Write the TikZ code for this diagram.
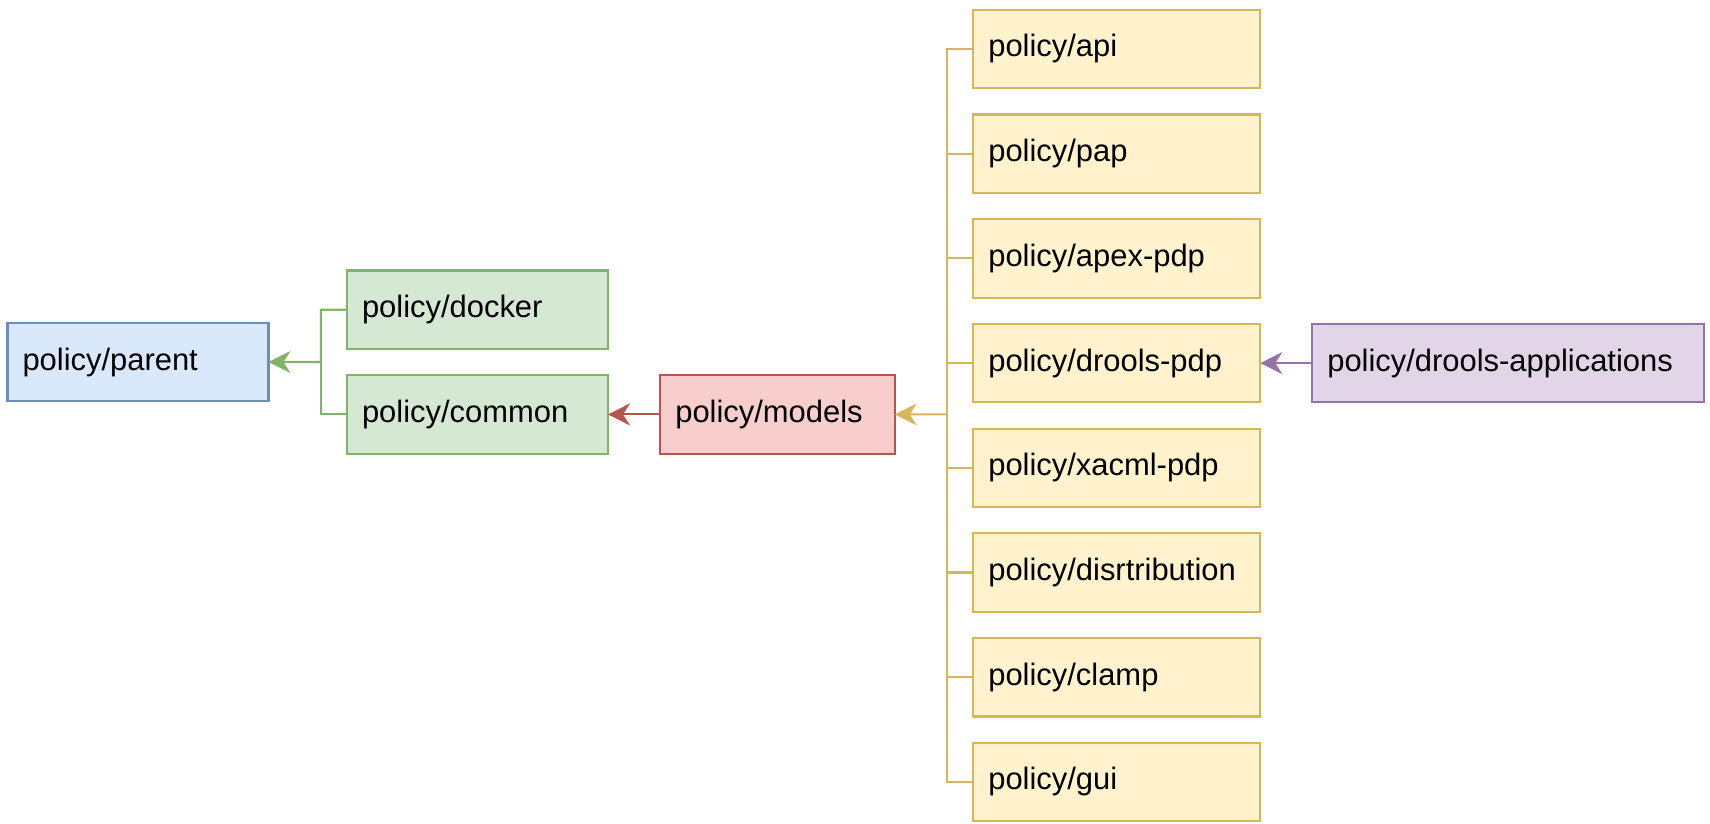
\documentclass[tikz,border=0pt]{standalone}
\usepackage{fontspec}
\setmainfont{Liberation Sans}
\usetikzlibrary{positioning,arrows.meta,calc}
\usepackage{xcolor}

\definecolor{blueFill}{HTML}{DAE8FC}
\definecolor{blueLine}{HTML}{6C8EBF}
\definecolor{greenFill}{HTML}{D5E8D4}
\definecolor{greenLine}{HTML}{82B366}
\definecolor{redFill}{HTML}{F8CECC}
\definecolor{redLine}{HTML}{B85450}
\definecolor{yellowFill}{HTML}{FFF2CC}
\definecolor{yellowLine}{HTML}{D6B656}
\definecolor{purpleFill}{HTML}{E1D5E7}
\definecolor{purpleLine}{HTML}{9673A6}

\begin{document}
\begin{tikzpicture}

    \tikzstyle{obj}=[draw, rectangle, line width=1.2pt, outer sep=0pt, minimum height=1.57cm, inner xsep=0.3cm, align=left, font=\fontsize{17.6}{21}\selectfont];
    \tikzstyle{root}=[obj, fill=blueFill, draw=blueLine, text width=4.62cm];
    \tikzstyle{base}=[obj, fill=greenFill, draw=greenLine, text width=4.62cm];
    \tikzstyle{core}=[obj, fill=redFill, draw=redLine, text width=4.09cm];
    \tikzstyle{comp}=[obj, fill=yellowFill, draw=yellowLine, text width=5.14cm];
    \tikzstyle{app}=[obj, fill=purpleFill, draw=purpleLine, text width=7.23cm];
    \tikzstyle{link}=[line width=1.2pt];

    \useasboundingbox (0,0) rectangle (34.2,-16.48);

    \begin{scope}[>={Stealth[length=0.44cm,width=0.44cm,inset=0.14cm]}]
      \node (parent) at (2.76,-7.24) [root]{policy/parent};

      \node (docker) [above right=-0.524cm and 1.57cm of parent, base]{policy/docker};
      \node (common) [below=0.524cm of docker, base]{policy/common};

      \node (models) [right=1.046cm of common, core]{policy/models};

      \node (api) [above right=5.738cm and 1.57cm of models, comp]{policy/api};
      \node (pap) [below=0.524cm of api, comp]{policy/pap};
      \node (apex) [below=0.524cm of pap, comp]{policy/apex-pdp};
      \node (drools) [below=0.524cm of apex, comp]{policy/drools-pdp};
      \node (xacml) [below=0.524cm of drools, comp]{policy/xacml-pdp};
      \node (distribution) [below=0.524cm of xacml, comp]{policy/disrtribution};
      \node (clamp) [below=0.524cm of distribution, comp]{policy/clamp};
      \node (gui) [below=0.524cm of clamp, comp]{policy/gui};

      \node (apps) [right=1.04cm of drools, app]{policy/drools-applications};

      % bends of the grouped connectors
      \coordinate (gbus) at ($(parent.east)!0.667!(docker.west |- parent.east)$);
      \coordinate (ybus) at ($(models.east)!0.667!(api.west |- models.east)$);

      \draw [link, greenLine, ->] (docker.west) -| (gbus) -- (parent.east);
      \draw [link, greenLine] (common.west) -| (gbus);

      \draw [link, redLine, ->] (models) -- (common);

      \draw [link, yellowLine] (api.west) -| (ybus);
      \draw [link, yellowLine] (pap.west) -| (ybus);
      \draw [link, yellowLine] (apex.west) -| (ybus);
      \draw [link, yellowLine] (drools.west) -| (ybus);
      \draw [link, yellowLine] (xacml.west) -| (ybus);
      \draw [link, yellowLine] (distribution.west) -| (ybus);
      \draw [link, yellowLine] (clamp.west) -| (ybus);
      \draw [link, yellowLine] (gui.west) -| (ybus);
      \draw [link, yellowLine, ->] (ybus) -- (models.east);

      \draw [link, purpleLine, ->] (apps) -- (drools);

    \end{scope}
   \end{tikzpicture}
\end{document}
